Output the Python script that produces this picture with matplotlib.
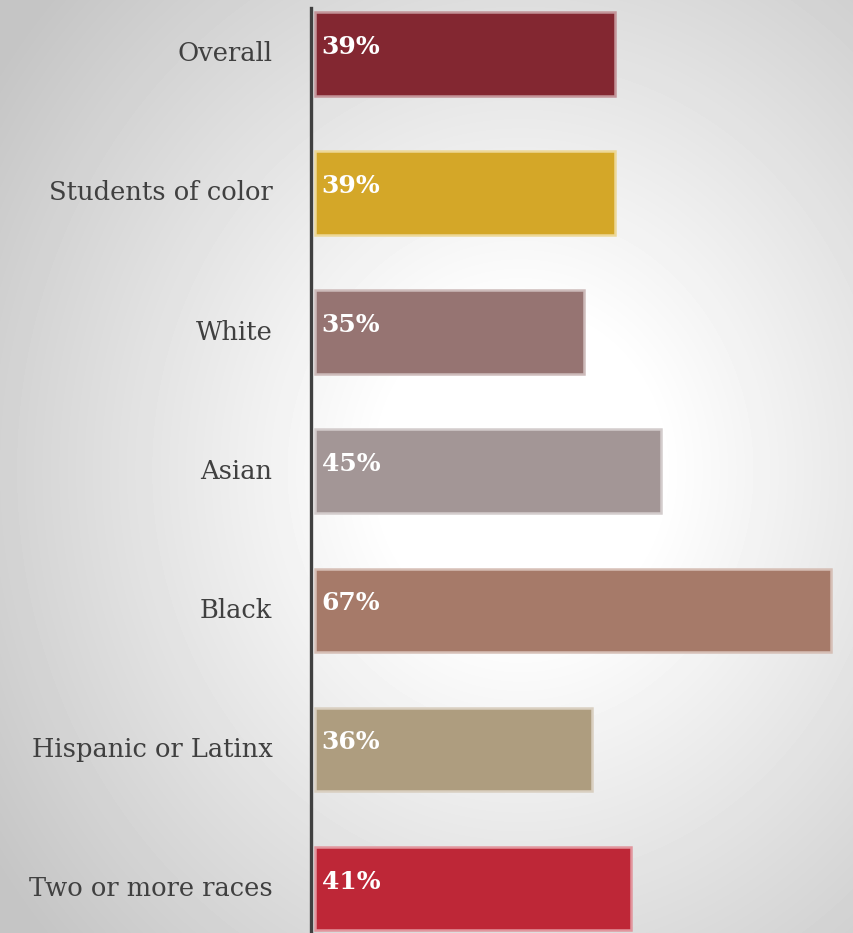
import numpy as np
import matplotlib.pyplot as plt

categories = ['Overall', 'Students of color', 'White', 'Asian', 'Black',
              'Hispanic or Latinx', 'Two or more races']
values = [39, 39, 35, 45, 67, 36, 41]
colors = ['#832731', '#D4A728', '#967472', '#A39696', '#A67A69', '#AE9D7F', '#BE2737']
edges = ['#C4959A', '#EDD898', '#CDBBBA', '#D3CCCC', '#D6BFB6', '#D9CFC0', '#E2959D']

fig = plt.figure(figsize=(8.54, 9.33), dpi=100)

# radial gradient background
bg = fig.add_axes([0, 0, 1, 1], zorder=0)
yy, xx = np.mgrid[0:933, 0:854]
r = np.sqrt(((xx - 520) / 560.0) ** 2 + ((yy - 470) / 620.0) ** 2)
shade = np.clip(1.0 - 0.22 * np.clip(r - 0.25, 0, None) / 0.85, 0.77, 1.0)
bg.imshow(shade, cmap='gray', vmin=0, vmax=1, aspect='auto', interpolation='bilinear')
bg.axis('off')

ax = fig.add_axes([311 / 854, 0, 1 - 311 / 854, 1 - 8 / 933], zorder=1)
ax.patch.set_alpha(0)
y = np.arange(len(categories))
ax.barh(y, values, height=0.6, left=0, color=colors, edgecolor=edges, linewidth=1.8)
ax.set_xlim(-0.5, 70)
ax.set_ylim(6.32, -0.33)

for i, v in enumerate(values):
    ax.text(0.9, i - 0.05, f'{v}%', color='white', fontsize=18, fontweight='bold',
            family='DejaVu Serif', ha='left', va='center')
    ax.text(-5.5, i, categories[i], color='#404040', fontsize=18.5,
            family='DejaVu Serif', ha='right', va='center')

for s in ['top', 'right', 'bottom']:
    ax.spines[s].set_visible(False)
ax.spines['left'].set_color('#404040')
ax.spines['left'].set_linewidth(2.4)
ax.set_xticks([])
ax.set_yticks([])

fig.savefig('out.png', dpi=100)
